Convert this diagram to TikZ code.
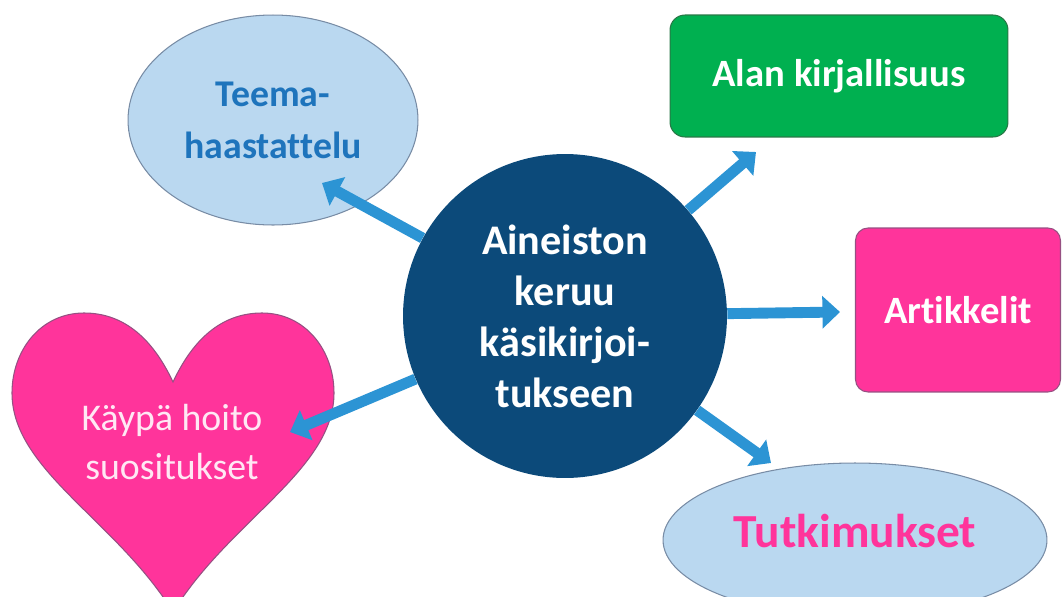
\documentclass[tikz,border=0pt]{standalone}
\usepackage{fontspec}
\setmainfont{Carlito}[Ligatures=NoCommon]
\usetikzlibrary{arrows.meta,shapes.geometric}

\definecolor{hubblue}{RGB}{12,74,122}
\definecolor{arrowblue}{RGB}{44,148,212}
\definecolor{paleblue}{RGB}{186,216,240}
\definecolor{ovaledge}{RGB}{120,140,165}
\definecolor{textblue}{RGB}{30,116,188}
\definecolor{boxgreen}{RGB}{0,176,80}
\definecolor{greenedge}{RGB}{40,120,70}
\definecolor{hotpink}{RGB}{255,52,155}
\definecolor{pinkedge}{RGB}{150,80,130}
\definecolor{palepink}{RGB}{255,232,244}

\begin{document}
\begin{tikzpicture}[x=0.02cm, y=-0.02cm]
    % --- CONFIGURAZIONE ---
    \tikzset{
        hub_style/.style={circle, fill=hubblue, text=white, minimum size=6.48cm, inner sep=0pt,
            align=center, font=\bfseries\fontsize{24}{29}\selectfont},
        oval_style/.style={ellipse, fill=paleblue, draw=ovaledge, line width=0.6pt, inner sep=0pt, align=center},
        box_style/.style={rectangle, line width=0.6pt, inner sep=0pt, text=white,
            font=\bfseries\fontsize{22}{27}\selectfont},
        arrow_style/.style={draw=arrowblue, line width=6.2pt, -{Triangle[length=10pt, width=18pt]}}
    }

    \useasboundingbox (0,0) rectangle (1063,596);

    % ===================================================
    % 1. SHAPES AROUND THE HUB
    % ===================================================
    \node[oval_style, minimum width=5.8cm, minimum height=4.2cm, text=textblue,
          font=\bfseries\fontsize{21.5}{29.5}\selectfont] (teema) at (273,120) {Teema-\\haastattelu};

    \node[box_style, fill=boxgreen, draw=greenedge, rounded corners=0.3cm,
          minimum width=6.76cm, minimum height=2.44cm] (alan) at (839,76) {Alan kirjallisuus};

    \node[box_style, fill=hotpink, draw=pinkedge, rounded corners=0.25cm,
          minimum width=4.1cm, minimum height=3.28cm] (artik) at (958,310) {Artikkelit};

    \node[oval_style, minimum width=7.68cm, minimum height=3.08cm, text=hotpink, text depth=10pt,
          font=\bfseries\fontsize{27}{32}\selectfont] (tutk) at (855,540) {Tutkimukset};

    % heart
    \draw[fill=hotpink, draw=pinkedge, line width=0.6pt]
        (173,382) .. controls (195,335) and (225,313) .. (262,313)
        .. controls (305,313) and (334,350) .. (334,393)
        .. controls (334,470) and (230,520) .. (173,612)
        .. controls (116,520) and (12,470) .. (12,393)
        .. controls (12,350) and (41,313) .. (84,313)
        .. controls (121,313) and (151,335) .. (173,382) -- cycle;
    \node[align=center, text=palepink, font=\fontsize{21.5}{28.4}\selectfont] (kaypa) at (172,442)
        {Käypä hoito\\suositukset};

    % ===================================================
    % 2. HUB AND ARROWS
    % ===================================================
    \node[hub_style] (hub) at (565,316) {Aineiston\\keruu\\käsikirjoi-\\tukseen};

    \coordinate (tip_teema) at (322,183);
    \coordinate (tip_alan)  at (756,152);
    \coordinate (tip_artik) at (840,312);
    \coordinate (tip_tutk)  at (771,463);
    \coordinate (tip_kaypa) at (290,432);

    \foreach \t in {teema, alan, artik, tutk, kaypa} {
        \draw[arrow_style] (hub) -- (tip_\t);
    }

\end{tikzpicture}
\end{document}
